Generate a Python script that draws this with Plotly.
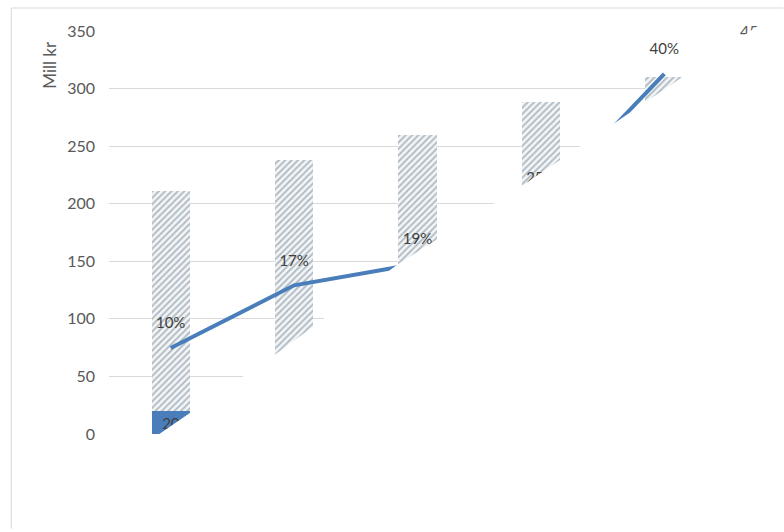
import plotly.graph_objects as go

# ---- data ----
categories = ["1", "2", "3", "4", "5"]
total_mill_kr = [211, 238, 260, 288, 310]        # hatched columns (Mill kr)
part_mill_kr = [20, 39.5, 49.4, 73, 124.6]        # solid blue columns (Mill kr)
part_labels = ["20", "40", "49", "73", "125"]
share = [0.096, 0.166, 0.19, 0.258, 0.402]       # line, right axis
share_labels = ["10%", "17%", "19%", "25%", "40%"]

W, H = 784, 532
L, R, T, B = 109, 50, 31, 98
PW, PH = W - L - R, H - T - B


def px(x):
    return (x - L) / PW


def py(y):
    return (H - B - y) / PH


FONT = "Lato"
GRAY = "#595959"
BLUE = "#4a7ebb"

fig = go.Figure()

fig.add_trace(go.Bar(
    x=categories, y=total_mill_kr, width=0.31,
    marker=dict(color="#f3f6f8", line=dict(width=0),
                pattern=dict(shape="/", fgcolor="#6f7e8c", bgcolor="#f3f6f8",
                             size=4.5, solidity=0.4)),
    hoverinfo="skip", showlegend=False,
))
fig.add_trace(go.Bar(
    x=categories, y=part_mill_kr, width=0.31,
    marker=dict(color=BLUE, line=dict(width=0)),
    text=part_labels, textposition="inside", insidetextanchor="middle", textangle=0,
    textfont=dict(family=FONT, size=15, color="#404040"),
    constraintext="none",
    hoverinfo="skip", showlegend=False,
))
fig.add_trace(go.Scatter(
    x=categories, y=share, yaxis="y2", mode="lines",
    line=dict(color=BLUE, width=4),
    hoverinfo="skip", showlegend=False,
))
# data labels of the line (invisible markers set the offset above each point)
fig.add_trace(go.Scatter(
    x=categories, y=share, yaxis="y2", mode="markers+text",
    marker=dict(size=24, opacity=0), text=share_labels, textposition="top center",
    textfont=dict(family=FONT, size=15, color="#404040"),
    hoverinfo="skip", showlegend=False, cliponaxis=False,
))

annotations = [dict(x=px(48), y=py(65), xref="paper", yref="paper", text="Mill kr",
                    textangle=-90, showarrow=False, xanchor="center", yanchor="middle",
                    font=dict(family=FONT, size=17, color=GRAY))]

# outer chart border
shapes = [dict(type="rect", xref="paper", yref="paper",
               x0=px(10), x1=px(792), y0=py(545), y1=py(8),
               line=dict(color="#d9d9d9", width=1), fillcolor="rgba(0,0,0,0)", layer="above")]

# white diagonal area covering the lower right of the picture (edge traced in pixels)
edge = [(-12, 543), (0, 535), (160, 434), (278, 354), (402, 264), (527, 186),
        (672, 89), (784, 14), (800, 3)]
pts = " L ".join("{},{}".format(px(x), py(y)) for x, y in edge)
path = "M {} L {},{} L {},{} Z".format(pts, px(800), py(580), px(-12), py(580))
shapes.append(dict(type="path", xref="paper", yref="paper", path=path,
                   fillcolor="white", line=dict(width=0), layer="above"))

fig.update_layout(
    width=W, height=H,
    margin=dict(l=L, r=R, t=T, b=B, pad=0),
    paper_bgcolor="white", plot_bgcolor="white",
    barmode="overlay", bargap=0,
    font=dict(family=FONT, color=GRAY),
    xaxis=dict(type="category", range=[-0.5, 4.5], showticklabels=False,
               showgrid=False, zeroline=False, showline=False, ticks=""),
    yaxis=dict(range=[0, 350], dtick=50, tick0=0, showgrid=True, gridcolor="#d9d9d9",
               gridwidth=1, zeroline=False, showline=False, ticks="",
               tickfont=dict(family=FONT, size=16, color=GRAY), ticklabelstandoff=13),
    yaxis2=dict(range=[0, 0.45], dtick=0.05, tick0=0, overlaying="y", side="right",
                tickformat=".0%", showgrid=False, zeroline=False, showline=False, ticks="",
                tickfont=dict(family=FONT, size=16, color=GRAY), ticklabelstandoff=13),
    annotations=annotations,
    shapes=shapes,
)

fig.write_html("out.html")
